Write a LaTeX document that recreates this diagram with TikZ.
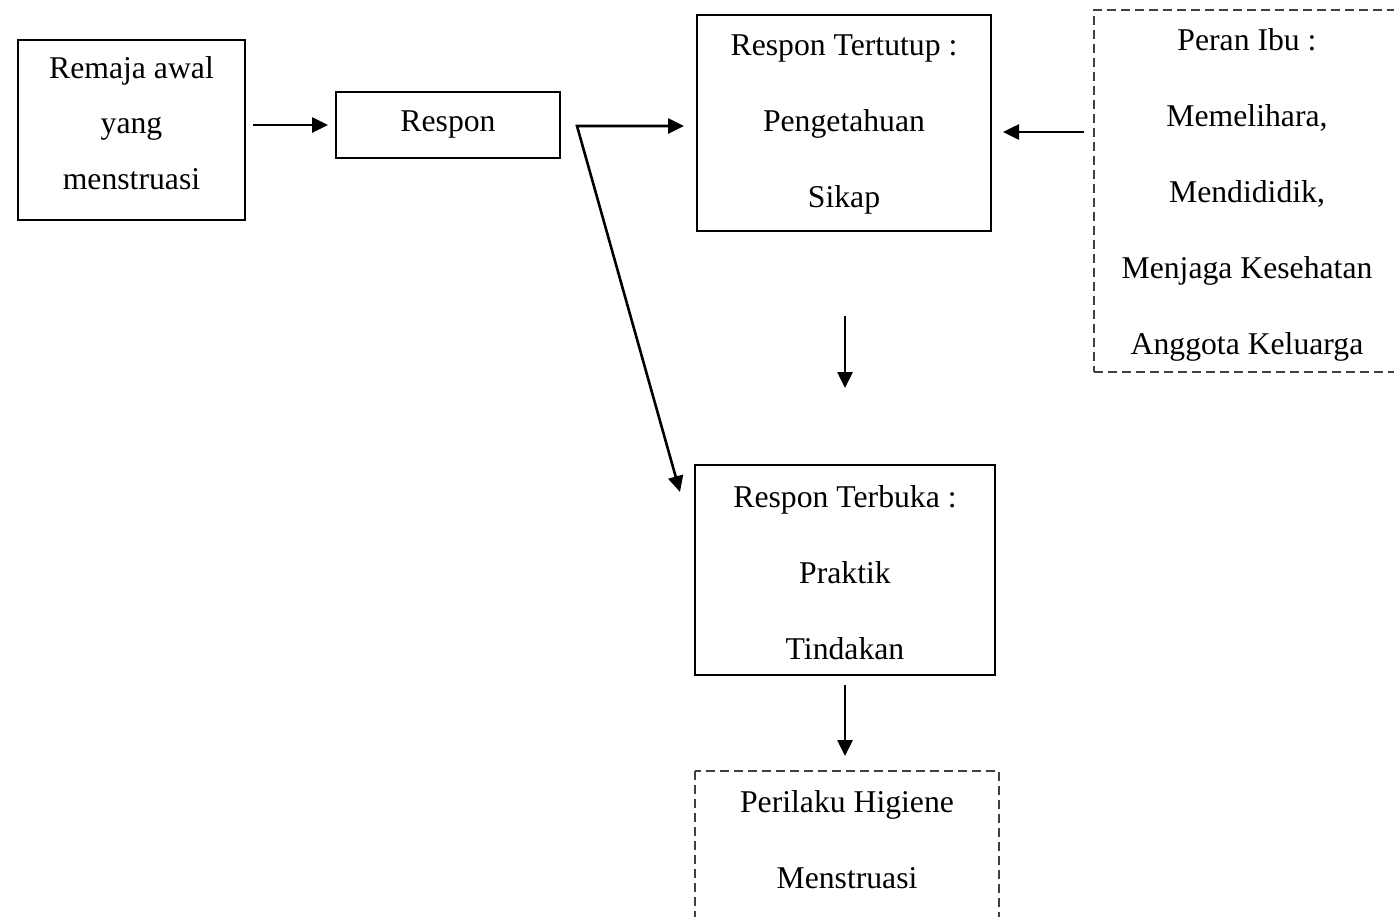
\documentclass[tikz,border=0pt]{standalone}
\usepackage{fontspec}
\setmainfont{Liberation Serif}
\usetikzlibrary{arrows.meta}
\begin{document}
\begin{tikzpicture}[x=1pt,y=-1pt,
  box/.style={draw, line width=1.2pt, align=center, inner sep=0pt},
  txt/.style={align=center, inner sep=0pt, font=\fontsize{31.7}{76}\selectfont},
  dbox/.style={draw=black!75, line width=1.2pt, dash pattern=on 9pt off 5pt},
  arr/.style={line width=2.6pt, -{Triangle[length=16pt,width=15pt]}}]
\useasboundingbox (0,0) rectangle (1394,916);
% boxes
\node[box, minimum width=227pt, minimum height=180pt] (A) at (131.5,130) {};
\node[txt, font=\fontsize{31.7}{55.5}\selectfont] (At) at (131.5,123) {Remaja awal\\yang\\menstruasi};
\node[box, minimum width=224pt, minimum height=66pt] (B) at (448,125) {};
\node[txt] (Bt) at (448,124) {Respon};
\node[box, minimum width=294pt, minimum height=216pt] (C) at (844,123) {};
\node[txt] (Ct) at (844,124) {Respon Tertutup :\\Pengetahuan\\Sikap};
\node[box, dbox, minimum width=306pt, minimum height=362pt] (D) at (1247,191) {};
\node[txt] (Dt) at (1247,195) {Peran Ibu :\\Memelihara,\\Mendididik,\\Menjaga Kesehatan\\Anggota Keluarga};
\node[box, minimum width=300pt, minimum height=210pt] (E) at (845,570) {};
\node[txt] (Et) at (845,573) {Respon Terbuka :\\Praktik\\Tindakan};
\draw[dbox] (695,771) rectangle (999,960);
\node[txt] (Ft) at (847,840) {Perilaku Higiene\\Menstruasi};
% arrow ends
\coordinate (a1) at (253,125);
\coordinate (a2) at (328,125);
\coordinate (b1) at (577,126);
\coordinate (b2) at (684,126);
\coordinate (b3) at (680,492);
\coordinate (d1) at (1084,132);
\coordinate (d2) at (1003,132);
\coordinate (c1) at (845,316);
\coordinate (c2) at (845,388);
\coordinate (e1) at (845,685);
\coordinate (e2) at (845,756);
\draw[arr] (a1) -- (a2);
\draw[line width=2.6pt, line join=miter, {Triangle[length=16pt,width=15pt]}-{Triangle[length=16pt,width=15pt]}] (b2) -- (b1) -- (b3);
\draw[arr] (d1) -- (d2);
\draw[arr] (c1) -- (c2);
\draw[arr] (e1) -- (e2);
\end{tikzpicture}
\end{document}
